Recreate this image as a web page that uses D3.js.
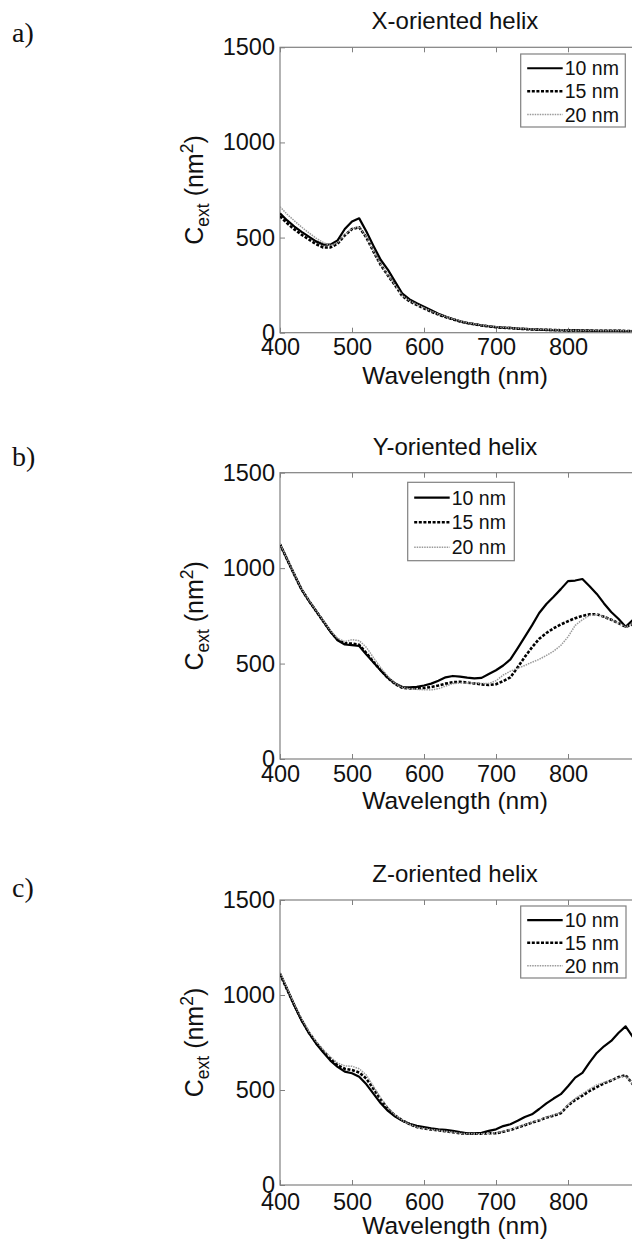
<!DOCTYPE html>
<html><head><meta charset="utf-8">
<script src="https://cdn.jsdelivr.net/npm/d3@7"></script>
<style>body{margin:0;background:#fff} svg{display:block}</style>
</head><body>
<svg id="chart" width="632" height="1243"></svg>
<script>
// ---------- DATA ----------
const wavelengths = [400,410,420,430,440,450,460,470,480,490,500,510,520,530,540,550,560,570,580,590,600,610,620,630,640,650,660,670,680,690,700,710,720,730,740,750,760,770,780,790,800,810,820,830,840,850,860,870,880,890,900];
const seriesNames = ["10 nm","15 nm","20 nm"];
const panelTitles = ["X-oriented helix","Y-oriented helix","Z-oriented helix"];
const panelLetters = ["a)","b)","c)"];
const xTicks = [400,500,600,700,800];
const yTicks = [0,500,1000,1500];

// X-oriented helix
const xHelix10 = [627,590,558,530,505,480,463,463,485,545,585,601,532,455,382,330,268,205,175,155,137,118,100,85,72,60,52,45,39,34,30,27,25,22,20,18,16,15,14,13,12,12,11,11,10,10,10,10,9,9,9];
const xHelix15 = [612,575,543,515,490,466,448,448,468,512,545,554,500,425,355,300,248,192,165,146,128,110,95,82,70,59,51,44,38,33,29,26,24,21,19,17,16,15,14,13,12,12,11,11,10,10,10,10,9,9,9];
const xHelix20 = [662,622,588,555,525,497,474,458,472,515,547,557,503,428,358,303,250,195,168,149,131,113,98,85,73,62,53,46,40,35,31,28,25,23,21,19,17,16,15,14,13,12,12,11,11,10,10,10,10,9,9];
// Y-oriented helix
const yHelix10 = [1125,1045,965,888,830,776,722,668,622,600,597,592,547,505,463,425,395,377,375,378,385,395,410,428,435,432,426,422,425,445,465,490,522,580,640,700,765,812,850,890,932,935,943,905,865,815,770,735,693,728,760];
const yHelix15 = [1125,1045,965,888,830,776,722,668,625,606,605,598,555,508,465,424,392,373,370,370,372,377,385,395,402,405,400,396,391,388,392,408,428,480,535,585,630,660,685,705,722,738,750,758,758,745,730,712,693,705,720];
const yHelix20 = [1128,1048,968,891,833,779,726,673,632,615,625,620,585,530,478,432,395,375,368,365,363,362,368,382,395,398,398,398,395,396,410,440,460,475,490,507,522,543,565,595,640,700,730,752,758,745,730,712,693,705,720];
// Z-oriented helix
const zHelix10 = [1114,1030,945,866,800,745,698,655,622,597,588,570,530,480,430,390,360,338,322,312,305,298,293,290,285,278,272,272,275,285,293,310,320,338,358,372,400,430,455,478,520,565,590,645,695,730,758,800,835,780,720];
const zHelix15 = [1110,1028,945,868,803,750,705,665,630,612,605,592,560,505,450,400,365,340,320,305,298,292,288,283,278,272,270,270,270,272,272,280,290,302,315,328,340,355,365,378,418,448,470,495,515,535,550,568,578,530,490];
const zHelix20 = [1120,1035,952,875,810,757,712,673,642,627,625,612,578,518,458,405,368,340,320,305,298,292,288,283,278,272,270,270,270,272,275,283,292,305,318,330,342,357,368,383,423,455,480,505,527,540,552,565,575,530,490];

const panelSeries = [
  [xHelix10, xHelix15, xHelix20],
  [yHelix10, yHelix15, yHelix20],
  [zHelix10, zHelix15, zHelix20]
];

// ---------- LAYOUT / STYLE ----------
const fontSans = "'Liberation Sans', Arial, Helvetica, sans-serif";
const fontSerif = "'Liberation Serif', 'Times New Roman', serif";
const axisColor = "#808080";
const plotLeft = 280, plotRight = 640;
const panels = [
  {top:47.3, bottom:332.7, letterY:41.7, tickOff:22, labOff:51, legend:{x:520.7, y:54, w:104.6, h:73}},
  {top:472.7, bottom:759, letterY:466, tickOff:23.5, labOff:50, legend:{x:407.7, y:482.3, w:106.6, h:78.4}},
  {top:900, bottom:1185, letterY:896.7, tickOff:25, labOff:49, legend:{x:520.7, y:906, w:105.3, h:72}}
];
const seriesStyle = [
  {stroke:"#000", width:2.2, dash:null},
  {stroke:"#000", width:2.6, dash:"3,1.6"},
  {stroke:"#9a9a9a", width:1.5, dash:"1.5,1"}
];

const svg = d3.select("#chart");
svg.append("rect").attr("width",632).attr("height",1243).attr("fill","#fff");

panels.forEach((p, i) => {
  const x = d3.scaleLinear().domain([400, 900]).range([plotLeft, plotRight]);
  const y = d3.scaleLinear().domain([0, 1500]).range([p.bottom, p.top]);
  const g = svg.append("g");

  // panel letter
  svg.append("text").attr("x", 12).attr("y", p.letterY)
    .attr("font-family", fontSerif).attr("font-size", 28).attr("fill", "#111")
    .text(panelLetters[i]);

  // frame
  g.append("rect").attr("x", plotLeft).attr("y", p.top)
    .attr("width", plotRight - plotLeft).attr("height", p.bottom - p.top)
    .attr("fill", "#fff").attr("stroke", axisColor).attr("stroke-width", 1.2);

  // axes
  const xAxis = g.append("g").attr("transform", `translate(0,${p.bottom})`)
    .call(d3.axisBottom(x).tickValues(xTicks).tickSize(-5).tickSizeOuter(0)
      .tickPadding(p.tickOff - 16.7).tickFormat(d3.format("d")));
  const xAxisTop = g.append("g").attr("transform", `translate(0,${p.top})`)
    .call(d3.axisTop(x).tickValues(xTicks).tickSize(-5).tickSizeOuter(0).tickFormat(""));
  const yAxis = g.append("g").attr("transform", `translate(${plotLeft},0)`)
    .call(d3.axisLeft(y).tickValues(yTicks).tickSize(-5).tickSizeOuter(0).tickPadding(5)
      .tickFormat(d3.format("d")));
  const yAxisRight = g.append("g").attr("transform", `translate(${plotRight},0)`)
    .call(d3.axisRight(y).tickValues(yTicks).tickSize(-5).tickSizeOuter(0).tickFormat(""));
  [xAxis, xAxisTop, yAxis, yAxisRight].forEach(a => {
    a.select(".domain").remove();
    a.selectAll(".tick line").attr("stroke", axisColor);
    a.selectAll("text").attr("font-family", fontSans).attr("font-size", 23.5).attr("fill", "#111");
  });

  // clip for curves
  const clipId = "clip" + i;
  svg.append("clipPath").attr("id", clipId).append("rect")
    .attr("x", plotLeft).attr("y", p.top - 2).attr("width", plotRight - plotLeft).attr("height", p.bottom - p.top + 2);

  const line = d3.line().x((d, k) => x(wavelengths[k])).y(d => y(d));
  panelSeries[i].forEach((vals, s) => {
    const st = seriesStyle[s];
    g.append("path").datum(vals).attr("d", line)
      .attr("clip-path", `url(#${clipId})`)
      .attr("fill", "none").attr("stroke", st.stroke).attr("stroke-width", st.width)
      .attr("stroke-dasharray", st.dash).attr("stroke-linejoin", "round");
  });

  // title
  g.append("text").attr("x", 455).attr("y", p.top - 18)
    .attr("text-anchor", "middle").attr("font-family", fontSans).attr("font-size", 24)
    .attr("fill", "#111").text(panelTitles[i]);

  // x label
  g.append("text").attr("x", 455).attr("y", p.bottom + p.labOff)
    .attr("text-anchor", "middle").attr("font-family", fontSans).attr("font-size", 24.5)
    .attr("fill", "#111").text("Wavelength (nm)");

  // y label
  const yl = g.append("text")
    .attr("transform", `translate(203,${(p.top + p.bottom) / 2}) rotate(-90)`)
    .attr("text-anchor", "middle").attr("font-family", fontSans).attr("font-size", 25)
    .attr("fill", "#111");
  yl.append("tspan").text("C");
  yl.append("tspan").attr("font-size", 17.5).attr("dy", 6).text("ext");
  yl.append("tspan").attr("dy", -6).text(" (nm");
  yl.append("tspan").attr("font-size", 17.5).attr("dy", -10).text("2");
  yl.append("tspan").attr("dy", 10).text(")");

  // legend
  const L = p.legend;
  const lg = g.append("g");
  lg.append("rect").attr("x", L.x).attr("y", L.y).attr("width", L.w).attr("height", L.h)
    .attr("fill", "#fff").attr("stroke", axisColor).attr("stroke-width", 1.2);
  const rowFrac = [0.195, 0.51, 0.83];
  seriesNames.forEach((name, s) => {
    const st = seriesStyle[s];
    const ry = L.y + L.h * rowFrac[s];
    lg.append("line").attr("x1", L.x + 6.5).attr("x2", L.x + 42).attr("y1", ry).attr("y2", ry)
      .attr("stroke", st.stroke).attr("stroke-width", st.width).attr("stroke-dasharray", st.dash);
    lg.append("text").attr("x", L.x + 44).attr("y", ry).attr("dy", "0.36em")
      .attr("font-family", fontSans).attr("font-size", 19.5).attr("fill", "#111").text(name);
  });
});
</script>
</body></html>
